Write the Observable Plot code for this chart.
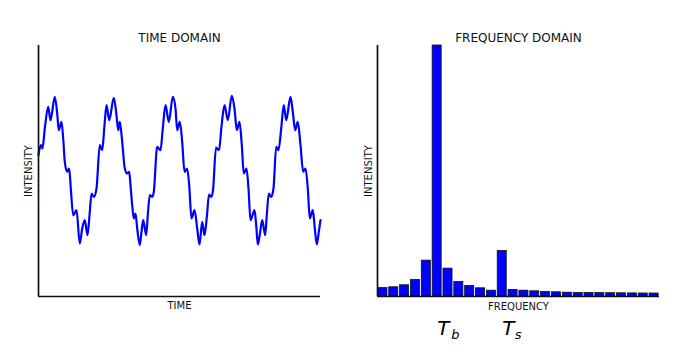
<!DOCTYPE html>
<html><head><meta charset="utf-8">
<script src="https://cdn.jsdelivr.net/npm/d3@7"></script>
<script src="https://cdn.jsdelivr.net/npm/@observablehq/plot@0.6"></script>
<style>
body{margin:0;background:#fff;}
#wrap{position:relative;width:696px;height:360px;overflow:hidden;background:#fff;}
#wrap svg{position:absolute;top:0;}
</style></head><body><div id="wrap"></div>
<script>
// ---- data ----
const titles = ["TIME DOMAIN", "FREQUENCY DOMAIN"];
const xLabels = ["TIME", "FREQUENCY"];
const yLabel = "INTENSITY";

const timeT = [0,2.3,4,6.3,9.7,12,16.3,18.7,20.3,23,24.7,26.3,28.7,30.7,32.3,34.7,38,41.3,43.7,46.3,49,51.3,53,55.3,58,
  61.3,63.7,66,68,70.7,75.3,78,79.7,81.3,83.7,86.3,88.7,90.7,92,93.7,95.3,97,98.7,101.3,103,104.7,107.7,109.3,111.3,113.7,115.3,
  118.7,122,124.3,127,130.3,134.3,137,138.7,141.3,143.7,146,148.7,150.7,153,156,158.7,161,163.7,166,168.5,170.5,172.7,174.5,
  177.5,180.5,183,186,189.3,193.3,196,198.3,201,203.3,205.3,208,210,212,216,217.7,219.3,221.7,223.7,226.7,228.3,230.3,232.7,235,
  237.7,240,242.7,245.3,247.7,252,254.3,256.7,259.3,262,264.7,267,269.3,271.3,274.3,276,278.3,280.3,282];
const timeI = [141.3,151.3,148,168,189.7,176.3,199.7,183,166.3,174.7,158,134.7,124.7,128,108,81.3,86.3,53,68,76.3,61.3,84.7,103,99.7,108,
  151.3,146.3,171.3,191.3,176.3,198.7,181.3,166.3,174.7,154.7,128,123,124.7,111.3,91.3,78,83,68,51.3,64.7,76.3,61.3,81.3,101.3,99.7,104.7,
  149.7,146.3,168,191.3,174.7,199.7,188,166.3,174.7,154.7,124.7,128,111.3,78,86.3,68,52,74.7,61.3,81.3,102,99.7,106,
  149,146.3,170,191.3,176.3,200.7,188,166.3,174.7,151.3,123,128,108,76.3,86.3,71.3,52,64.7,76.3,61.3,81.3,103,99.7,108,
  149.7,146.3,168,191.3,176.3,199.7,184.7,166.3,174.7,151.3,124.7,128,108,78,86.3,71.3,52,64.7,76.3];

const freqBins = [0,1,2,3,4,5,6,7,8,9,10,11,12,13,14,15,16,17,18,19,20,21,22,23,24,25];
const freqV = [8.5,9.2,11.2,16.5,35.8,250.5,27.8,14.5,10.5,8.2,5.8,45.5,6.5,5.8,5.2,4.5,4.2,3.8,3.6,3.5,3.4,3.3,3.2,3.1,3.0,3.0];

const peakBins = [5, 11];
const peakMain = ["T", "T"];
const peakSub = ["b", "s"];

// ---- build ----
const timeData = timeT.map((t, i) => ({t, v: timeI[i]}));
const freqData = freqBins.map((b, i) => ({b, v: freqV[i]}));
const peaks = peakBins.map((b, i) => ({b, main: peakMain[i], sub: peakSub[i]}));

const ink = "#111";
const blue = "#0000ff";
const font = "DejaVu Sans, sans-serif";

const left = Plot.plot({
  width: 348, height: 360,
  marginLeft: 38, marginRight: 28, marginTop: 45, marginBottom: 64,
  x: {domain: [0, 282], axis: null},
  y: {domain: [0, 251], axis: null},
  style: {fontFamily: font, background: "transparent", overflow: "visible", color: ink},
  marks: [
    Plot.line(timeData, {x: "t", y: "v", stroke: blue, strokeWidth: 2.2, curve: "monotone-x"}),
    Plot.ruleX([0], {stroke: ink, strokeWidth: 1.7}),
    Plot.ruleY([0], {stroke: ink, strokeWidth: 1.7}),
    Plot.text([titles[0]], {text: d => d, frameAnchor: "top", lineAnchor: "middle", textAnchor: "middle", dy: -7, fontSize: 12, fill: ink}),
    Plot.text([xLabels[0]], {text: d => d, frameAnchor: "bottom", lineAnchor: "middle", textAnchor: "middle", dy: 9.5, fontSize: 10, fill: ink}),
    Plot.text([yLabel], {text: d => d, frameAnchor: "left", lineAnchor: "middle", textAnchor: "middle", rotate: -90, dx: -10, fontSize: 10, fill: ink})
  ]
});

const right = Plot.plot({
  width: 348, height: 360,
  marginLeft: 29, marginRight: 37, marginTop: 45, marginBottom: 64,
  x: {domain: [0, 26], axis: null},
  y: {domain: [0, 250.5], axis: null},
  style: {fontFamily: font, background: "transparent", overflow: "visible", color: ink},
  marks: [
    Plot.rectY(freqData, {x1: d => d.b, x2: d => d.b + 1, y1: 0, y2: "v", fill: blue, stroke: ink, strokeWidth: 0.8, insetLeft: 0.9, insetRight: 0.9}),
    Plot.ruleX([0], {stroke: ink, strokeWidth: 1.7}),
    Plot.ruleY([0], {stroke: ink, strokeWidth: 1.7}),
    Plot.text([titles[1]], {text: d => d, frameAnchor: "top", lineAnchor: "middle", textAnchor: "middle", dy: -7, fontSize: 12, fill: ink}),
    Plot.text([xLabels[1]], {text: d => d, frameAnchor: "bottom", lineAnchor: "middle", textAnchor: "middle", dy: 10, fontSize: 10, fill: ink}),
    Plot.text([yLabel], {text: d => d, frameAnchor: "left", lineAnchor: "middle", textAnchor: "middle", rotate: -90, dx: -9, fontSize: 10, fill: ink}),
    Plot.text(peaks, {x: d => d.b + 0.5, text: "main", frameAnchor: "bottom", lineAnchor: "middle", textAnchor: "start", dy: 32.3, fontSize: 20, fontStyle: "italic", fill: "#000"}),
    Plot.text(peaks.filter(d => d.sub === "b"), {x: d => d.b + 0.5, text: "sub", frameAnchor: "bottom", lineAnchor: "middle", textAnchor: "start", dx: 14, dy: 38, fontSize: 13, fontStyle: "italic", fill: "#000"}),
    Plot.text(peaks.filter(d => d.sub === "s"), {x: d => d.b + 0.5, text: "sub", frameAnchor: "bottom", lineAnchor: "middle", textAnchor: "start", dx: 12.5, dy: 38, fontSize: 13, fontStyle: "italic", fill: "#000"})
  ]
});

left.style.left = "0px";
right.style.left = "348px";
const wrap = document.getElementById("wrap");
wrap.appendChild(left);
wrap.appendChild(right);
</script>
</body></html>
